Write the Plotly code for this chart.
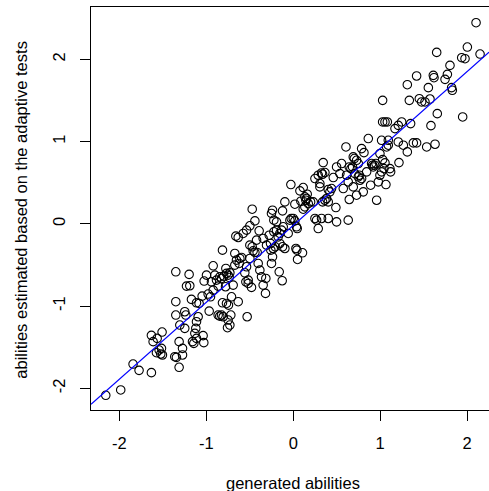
import plotly.graph_objects as go

generated = [
-2.157,-1.985,-1.843,-1.774,-1.632,-1.632,-1.612,-1.509,-1.566,-1.574,-1.543,-1.516,-1.524,-1.505,
-1.351,-1.351,-1.351,-1.363,-1.344,-1.313,-1.274,-1.274,-1.313,-1.305,-1.248,-1.248,-1.236,-1.198,-1.228,-1.190,-1.171,-1.159,-1.144,-1.113,-1.121,-1.132,-1.113,-1.094,-1.113,-1.083,
-1.037,-1.029,-1.048,-0.998,-1.025,-0.967,-0.979,-0.952,-0.921,-0.902,-0.941,-0.883,-0.814,-0.864,-0.845,-0.825,-0.806,-0.814,-0.845,-0.825,-0.799,-0.768,-0.749,-0.729,-0.775,-0.737,-0.768,-0.745,-0.779,-0.756,-0.729,-0.749,-0.718,-0.864,-0.921,-0.710,
-0.691,-0.672,-0.660,-0.633,-0.653,-0.622,-0.614,-0.595,-0.633,-0.576,-0.537,-0.499,-0.472,-0.441,-0.537,-0.545,-0.518,-0.480,-0.530,-0.499,-0.472,-0.499,-0.461,-0.441,-0.422,-0.392,-0.415,-0.403,-0.384,-0.365,-0.346,-0.319,-0.315,-0.346,-0.518,-0.557,-0.672,
-0.307,-0.276,-0.261,-0.257,-0.238,-0.250,-0.223,-0.192,-0.223,-0.230,-0.250,-0.238,-0.207,-0.173,-0.154,-0.134,-0.115,-0.154,-0.123,-0.096,-0.161,-0.127,-0.096,-0.123,-0.058,-0.038,-0.023,0.000,0.019,0.038,0.046,-0.027,0.019,0.031,0.042,0.050,-0.192,
0.107,0.077,0.088,0.115,0.134,0.146,0.154,0.161,0.173,0.200,0.134,0.115,0.230,0.250,0.269,0.288,0.326,0.403,0.250,0.288,0.307,0.326,0.345,0.338,0.365,0.307,0.338,0.365,0.384,0.403,0.441,0.461,0.403,0.422,
0.491,0.499,0.499,0.537,0.557,0.576,0.607,0.614,0.633,0.645,0.633,0.645,0.664,0.691,0.703,0.729,0.749,0.710,0.729,0.749,0.760,0.768,0.787,0.787,0.814,0.845,0.864,0.806,0.691,0.683,
0.902,0.914,0.921,0.937,0.952,0.960,0.979,0.998,1.017,1.029,1.044,1.056,1.067,1.075,1.094,1.113,1.121,1.094,1.029,1.029,1.056,1.083,1.171,1.209,1.209,1.217,0.891,0.998,1.017,
1.248,1.267,1.313,1.313,1.336,1.351,1.382,1.420,1.420,1.451,1.478,1.516,1.536,1.555,1.574,1.585,1.612,1.620,1.632,1.651,1.658,1.747,1.774,1.804,1.823,1.831,1.950,1.939,1.977,2.004,2.104,2.150,
]

estimated = [
-2.085,-2.020,-1.705,-1.782,-1.810,-1.356,-1.433,-1.316,-1.393,-1.567,-1.535,-1.514,-1.583,-1.595,
-0.583,-0.947,-1.109,-1.616,-1.624,-1.745,-1.595,-1.514,-1.433,-1.231,-1.271,-1.069,-1.109,-0.615,-0.757,-0.753,-0.919,-1.433,-1.454,-1.190,-1.271,-1.332,-1.393,-1.130,-0.960,-0.968,
-1.360,-1.445,-0.879,-0.624,-0.696,-1.061,-0.854,-0.887,-0.510,-0.624,-0.705,-0.684,-0.320,-1.109,-1.122,-1.109,-1.130,-0.960,-0.644,-0.664,-0.636,-0.603,-0.624,-0.595,-0.543,-0.652,-0.968,-0.988,-0.765,-1.263,-1.231,-1.170,-1.109,-0.757,-0.806,-0.887,
-0.745,-0.360,-0.150,-0.166,-0.441,-0.482,-0.421,-0.409,-0.947,-0.117,-0.077,-0.024,0.178,0.036,-0.522,-0.705,-0.725,-0.773,-1.130,-0.259,-0.279,-0.421,-0.328,-0.348,-0.198,-0.085,-0.348,-0.482,-0.563,-0.644,-0.745,-0.846,-0.664,-0.178,-0.684,-0.595,-0.502,
-0.259,-0.138,-0.239,-0.320,0.166,0.126,0.045,0.024,-0.097,-0.300,-0.482,-0.401,-0.279,-0.158,-0.117,-0.077,-0.036,-0.239,-0.279,-0.300,-0.583,-0.692,0.267,0.158,-0.117,0.045,0.065,0.065,0.036,-0.036,-0.057,0.478,0.239,-0.300,-0.320,-0.433,-0.077,
-0.352,0.401,0.275,0.441,0.328,0.287,0.308,0.360,0.247,0.267,0.206,0.178,0.267,0.065,0.045,-0.057,0.065,0.065,0.551,0.591,0.490,0.619,0.745,0.603,0.624,0.449,0.267,0.287,0.308,0.267,0.429,0.563,0.417,0.389,
0.198,0.024,0.692,0.611,0.733,0.429,0.935,0.591,0.510,0.296,0.045,0.692,0.672,0.814,0.794,0.773,0.733,0.611,0.348,0.571,0.591,0.530,0.551,0.915,0.866,0.632,1.037,0.389,0.449,0.692,
0.733,0.713,0.692,0.713,0.733,0.287,0.510,0.854,1.016,0.781,0.672,0.741,0.478,0.935,0.956,0.672,0.632,1.016,1.502,1.239,1.239,1.239,1.158,0.996,1.198,0.745,0.470,0.591,0.632,
1.239,0.956,0.875,1.692,1.502,1.219,0.984,0.984,1.798,1.522,1.482,1.482,0.935,1.656,1.518,1.194,1.806,1.777,0.968,2.085,1.340,1.757,1.818,1.927,1.656,1.624,1.300,2.020,2.008,2.150,2.446,2.065,
]

fit_intercept = -0.018
fit_slope = 0.935

x_ticks = [-2, -1, 0, 1, 2]
y_ticks = [-2, -1, 0, 1, 2]
x_title = "generated abilities"
y_title = "abilities estimated based on the adaptive tests"

x_range = [-2.327, 2.253]
y_range = [-2.264, 2.637]

FONT = "Liberation Sans, Arial, sans-serif"

fig = go.Figure()
fig.add_trace(go.Scatter(
    x=generated, y=estimated, mode="markers",
    marker=dict(symbol="circle-open", size=8.5, color="black", line=dict(width=1.1, color="black")),
    hoverinfo="skip", showlegend=False,
))
line_x = list(x_range)
line_y = [fit_intercept + fit_slope * v for v in line_x]
fig.add_trace(go.Scatter(
    x=line_x, y=line_y, mode="lines",
    line=dict(color="#0000FF", width=1.2), hoverinfo="skip", showlegend=False,
))

axis_common = dict(
    showgrid=False, zeroline=False, showline=True, linecolor="black", linewidth=1.2,
    ticks="outside", ticklen=10, tickwidth=1.2, tickcolor="black",
    tickfont=dict(family=FONT, size=16.5, color="black"),
)
fig.update_xaxes(range=x_range, tickvals=x_ticks, ticktext=[str(t) for t in x_ticks],
                 mirror=True, ticklabelstandoff=8, **axis_common)
fig.update_yaxes(range=y_range, tickvals=y_ticks, ticktext=[str(t) for t in y_ticks],
                 tickangle=-90, ticklabelstandoff=8, **axis_common)

fig.add_annotation(text=x_title, xref="paper", yref="paper", x=0.507, y=-0.18,
                   xanchor="center", yanchor="middle", showarrow=False,
                   font=dict(family=FONT, size=16.5, color="black"))
fig.add_annotation(text=y_title, xref="paper", yref="paper", x=-0.175, y=0.498,
                   xanchor="center", yanchor="middle", textangle=-90, showarrow=False,
                   font=dict(family=FONT, size=16.5, color="black"))

fig.update_layout(
    width=489, height=491,
    margin=dict(l=91, r=0, t=7, b=81),
    plot_bgcolor="white", paper_bgcolor="white",
)
fig.write_html("out.html")
